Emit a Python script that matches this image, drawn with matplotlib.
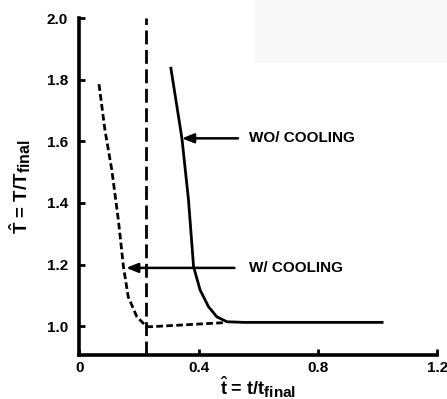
import matplotlib
matplotlib.use("Agg")
import matplotlib.pyplot as plt
from matplotlib import _mathtext
from matplotlib.patches import Rectangle

plt.rcParams['font.family'] = ['Liberation Sans', 'DejaVu Sans']
plt.rcParams['font.weight'] = 'bold'
plt.rcParams['mathtext.fontset'] = 'custom'
plt.rcParams['mathtext.rm'] = 'Liberation Sans:bold'
plt.rcParams['mathtext.it'] = 'Liberation Sans:bold'
plt.rcParams['mathtext.bf'] = 'Liberation Sans:bold'
# larger subscripts for the "final" labels
_mathtext.SHRINK_FACTOR = 0.85

# normalised time / temperature, with cooling (dashed)
t_cool = [0.066, 0.086, 0.109, 0.131, 0.148, 0.164, 0.193, 0.226, 0.243, 0.483]
T_cool = [1.786, 1.637, 1.507, 1.344, 1.193, 1.095, 1.030, 0.998, 0.998, 1.011]

# without cooling (solid)
t_nocool = [0.307, 0.344, 0.366, 0.383, 0.405, 0.433, 0.461, 0.495, 0.55, 1.015]
T_nocool = [1.838, 1.610, 1.410, 1.193, 1.117, 1.063, 1.030, 1.014, 1.012, 1.012]

t_switch = 0.225

xticks = [0, 0.4, 0.8, 1.2]
xticklabels = ['0', '0.4', '0.8', '1.2']
yticks = [1.0, 1.2, 1.4, 1.6, 1.8, 2.0]
yticklabels = ['1.0', '1.2', '1.4', '1.6', '1.8', '2.0']

fig = plt.figure(figsize=(4.47, 3.99), dpi=100)
fig.patches.append(Rectangle((255 / 447, 1 - 62 / 399), 192 / 447, 62 / 399,
                             transform=fig.transFigure, color='#f8f8f8', zorder=0))
ax = fig.add_axes([0.1774, 0.1103, 0.8009, 0.8438])
ax.patch.set_alpha(0)

ax.plot(t_cool, T_cool, color='black', lw=2.0, dashes=(2.4, 1.2))
ax.plot(t_nocool, T_nocool, color='black', lw=2.0)
ax.plot([t_switch, t_switch], [0.906, 2.0], color='black', lw=2.0, dashes=(5, 2.0))

arrow = dict(arrowstyle='-|>,head_length=0.7,head_width=0.28', color='black', lw=1.8,
             shrinkA=0, shrinkB=0)
ax.annotate('', xy=(0.344, 1.61), xytext=(0.532, 1.61), arrowprops=arrow)
ax.annotate('', xy=(0.157, 1.189), xytext=(0.52, 1.189), arrowprops=arrow)
ax.text(0.568, 1.61, 'WO/ COOLING', fontsize=11, fontweight='bold', va='center', ha='left')
ax.text(0.568, 1.189, 'W/ COOLING', fontsize=11, fontweight='bold', va='center', ha='left')

ax.set_xlim(0, 1.2)
ax.set_ylim(0.906, 2.0)
ax.set_xticks(xticks)
ax.set_xticklabels(xticklabels)
ax.set_yticks(yticks)
ax.set_yticklabels(yticklabels)
ax.tick_params(direction='in', length=4, width=2, labelsize=11)
ax.tick_params(axis='x', pad=4)
ax.tick_params(axis='y', pad=8)

for side in ['top', 'right']:
    ax.spines[side].set_visible(False)
for side in ['left', 'bottom']:
    ax.spines[side].set_linewidth(2.6)

ax.set_xlabel(r'$\hat{t}$ = t/t$_{\mathrm{final}}$', fontsize=13, fontweight='bold', labelpad=0)
ax.set_ylabel(r'$\hat{T}$ = T/T$_{\mathrm{final}}$', fontsize=13.5, fontweight='bold', labelpad=10)

fig.savefig('out.png', dpi=100)
